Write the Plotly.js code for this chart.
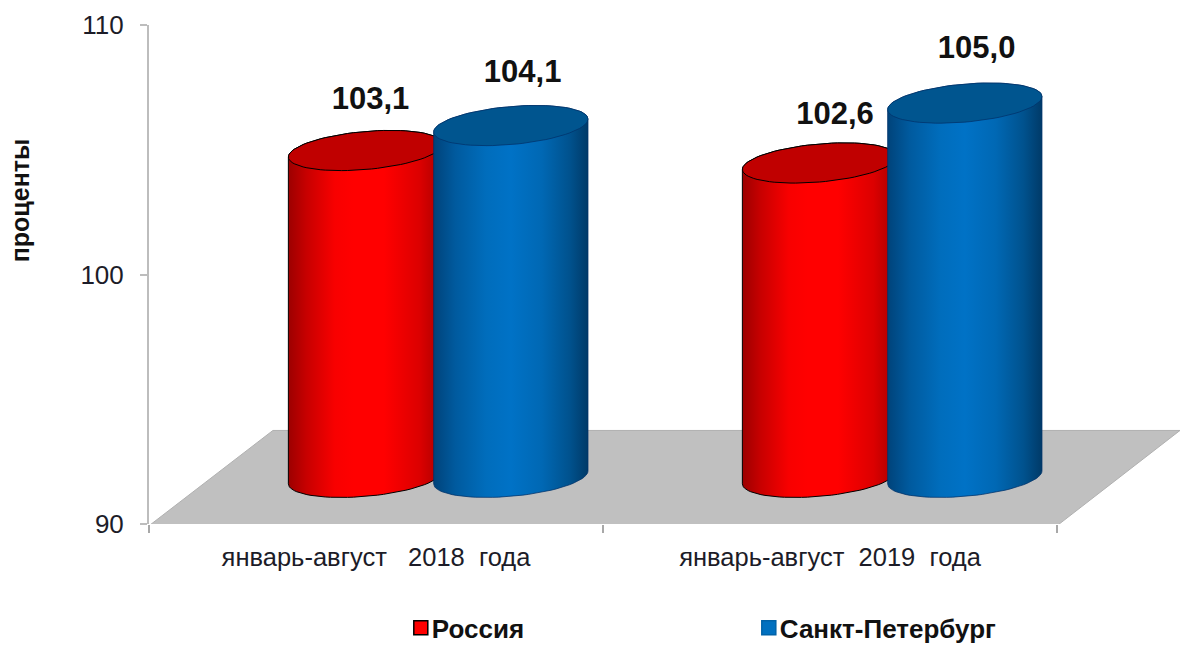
<!DOCTYPE html>
<html>
<head>
<meta charset="utf-8">
<script src="https://cdn.plot.ly/plotly-3.0.1.min.js"></script>
<style>html,body{margin:0;padding:0;background:#fff}</style>
</head>
<body>
<div id="chart" style="width:1180px;height:645px"></div>
<script>
const categories = ['январь-август\u00a0\u00a0\u00a02018\u00a0\u00a0года', 'январь-август\u00a0\u00a02019\u00a0\u00a0года'];
const russia = [103.1, 102.6];
const spb = [104.1, 105.0];
const seriesNames = ['Россия', 'Санкт-Петербург'];
const yTicks = [90, 100, 110];

// pseudo-3D geometry, in axis units
const depthY = 1.87;
const floorY = 90;
const offsets = [-0.023, 0.297];
const halfW = 0.170, capB = 0.763, capS = 0.26;
const labelDx = [[0.011, 0.034], [0.026, 0.026]];
const labelDy = [[1.96, 1.86], [2.06, 2.1]];
const floorX = [-0.5, -0.227, 1.771, 1.5, -0.5];
const floorYs = [89.93, 93.75, 93.75, 89.93, 89.93];

const redScale = [[0,'#9c0000'],[0.12,'#c80000'],[0.3,'#f80000'],[0.42,'#ff0000'],[0.62,'#ff0000'],[0.85,'#dc0000'],[1,'#a80000']];
const blueScale = [[0,'#00437a'],[0.14,'#005a9e'],[0.34,'#006dbc'],[0.5,'#0072c6'],[0.7,'#0068b4'],[0.88,'#00528e'],[1,'#003a68']];

function arc(cx, cy, from, to, n) {
  const xs = [], ys = [];
  for (let i = 0; i <= n; i++) {
    const t = from + (to - from) * i / n;
    xs.push(cx + halfW * Math.cos(t));
    ys.push(cy + capS * Math.cos(t) + capB * Math.sin(t));
  }
  return [xs, ys];
}

const traces = [];
traces.push({x: floorX, y: floorYs, xaxis: 'x', yaxis: 'y', mode: 'lines', fill: 'toself',
  fillcolor: '#c0c0c0', line: {color: '#b0b0b0', width: 1}, hoverinfo: 'skip', showlegend: false, cliponaxis: false});

function cylinder(cx, value, scale, capColor, edge) {
  const top = value + depthY, base = floorY + depthY;
  const [bx, by] = arc(cx, base, Math.PI, 2 * Math.PI, 40);   // front of the base, left to right
  const [tx, ty] = arc(cx, top, 0, Math.PI, 40);              // back of the cap, right to left
  traces.push({x: bx.concat(tx, [bx[0]]), y: by.concat(ty, [by[0]]), xaxis: 'x', yaxis: 'y', mode: 'lines', fill: 'toself',
    fillgradient: {type: 'horizontal', colorscale: scale}, line: {color: edge, width: 1},
    hoverinfo: 'skip', showlegend: false});
  const [cxs, cys] = arc(cx, top, 0, 2 * Math.PI, 80);
  traces.push({x: cxs, y: cys, xaxis: 'x', yaxis: 'y', mode: 'lines', fill: 'toself', fillcolor: capColor,
    line: {color: edge, width: 1}, hoverinfo: 'skip', showlegend: false});
}

categories.forEach((c, i) => {
  cylinder(i + offsets[0], russia[i], redScale, '#c00000', '#000000');
  cylinder(i + offsets[1], spb[i], blueScale, '#00558f', 'rgba(0,50,105,0.75)');
});

// value labels
[russia, spb].forEach((vals, s) => {
  traces.push({
    x: vals.map((v, i) => i + offsets[s] + labelDx[s][i]),
    y: vals.map((v, i) => v + depthY + labelDy[s][i]),
    text: vals.map(v => v.toFixed(1).replace('.', ',')),
    xaxis: 'x', yaxis: 'y', mode: 'text', textposition: 'middle center',
    textfont: {family: 'Liberation Sans, Arial, sans-serif', size: 31, color: '#111', weight: 700},
    hoverinfo: 'skip', showlegend: false, cliponaxis: false
  });
});

// legend keys, on the category axis
[[seriesNames[0], '#ff0000', '#000000'], [seriesNames[1], '#0070c0', '#0062a8']].forEach(k => {
  traces.push({x: categories, y: [null, null], xaxis: 'x2', yaxis: 'y', type: 'scatter', mode: 'markers', name: k[0],
    marker: {symbol: 'square', size: 14, color: k[1], line: {color: k[2], width: 1.5}}, hoverinfo: 'skip'});
});

const axisGray = '#bdbdbd';
const layout = {
  width: 1180, height: 645,
  margin: {l: 149, r: 0, t: 25, b: 121, pad: 0},
  paper_bgcolor: '#fff', plot_bgcolor: 'rgba(0,0,0,0)',
  font: {family: 'Liberation Sans, Arial, sans-serif', color: '#1c1c28'},
  xaxis: {domain: [0, 1], range: [-0.5, 1.771], visible: false, fixedrange: true},
  xaxis2: {domain: [0, 0.8807], anchor: 'y', type: 'category', categoryorder: 'array', categoryarray: categories,
    range: [-0.5, 1.5], tickson: 'boundaries', ticks: 'outside', ticklen: 8, tickcolor: '#a8a8a8', tickwidth: 2,
    ticklabelstandoff: 15, showline: false, showgrid: false, zeroline: false, tickfont: {size: 25.5, color: '#1c1c28'}, fixedrange: true},
  yaxis: {range: [90, 110], tickvals: yTicks, ticks: 'outside', ticklen: 7, tickcolor: axisGray, tickwidth: 2,
    ticklabelstandoff: 11, showline: true, linecolor: axisGray, linewidth: 2, showgrid: false, zeroline: false,
    tickfont: {size: 26, color: '#1c1c28'}, anchor: 'x', fixedrange: true},
  showlegend: true,
  legend: {orientation: 'h', x: 0.2355, xanchor: 'left', yref: 'container', y: 0.0264, yanchor: 'middle',
    entrywidth: 303, entrywidthmode: 'pixels', font: {size: 26, color: '#111', weight: 700}, bgcolor: 'rgba(0,0,0,0)'},
  annotations: [{xref: 'paper', yref: 'paper', x: -0.141, y: 0.648, text: 'проценты', textangle: -90, showarrow: false,
    font: {size: 25, color: '#111', weight: 700}}]
};
Plotly.newPlot('chart', traces, layout, {displayModeBar: false, responsive: false}).then(gd => {
  // the reference keeps its legend keys close to the text
  gd.querySelectorAll('.legend .legendsymbols').forEach(s => s.setAttribute('transform', 'translate(9,0)'));
});
</script>
</body>
</html>
